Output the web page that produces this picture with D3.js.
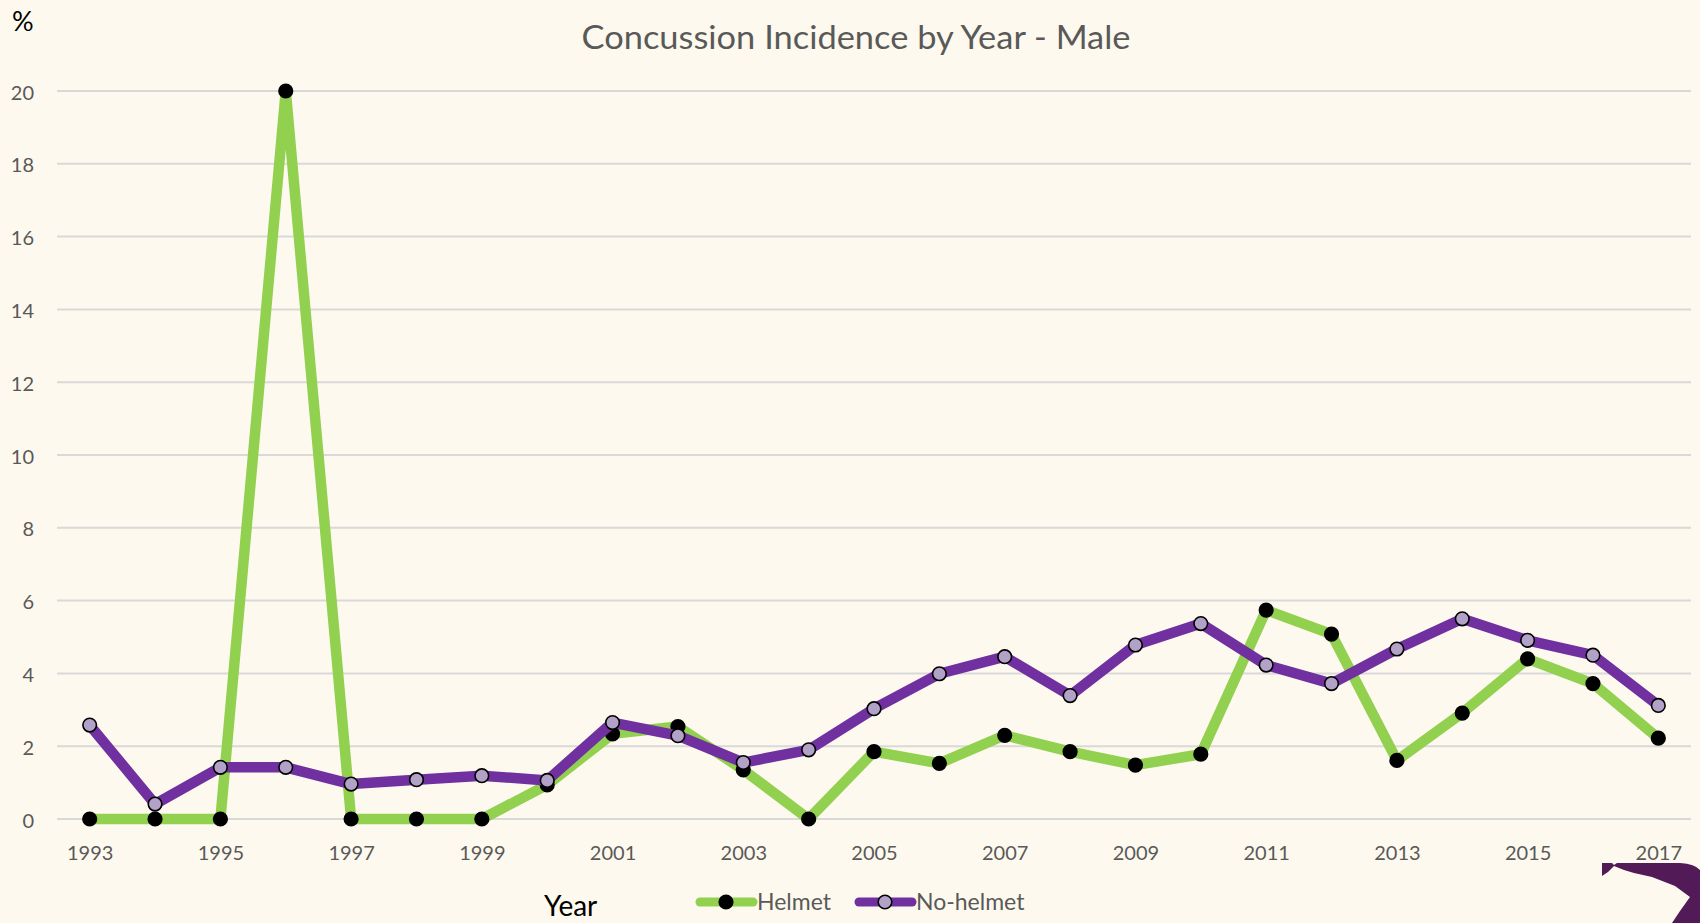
<!DOCTYPE html>
<html lang="en">
  <head>
    <meta charset="utf-8" />
    <title>Concussion Incidence by Year - Male</title>
    <style>
      html,
      body {
        margin: 0;
        padding: 0;
        background-color: #fef9ee;
        overflow: hidden;
      }

      svg {
        display: block;
        font-family: Lato, 'Open Sans', sans-serif;
      }

      .grid line {
        stroke: #d9d9d9;
        stroke-width: 2;
      }

      .tick-label {
        fill: #595959;
        font-size: 20px;
      }
    </style>
  </head>

  <body>
    <svg></svg>

    <script src="https://d3js.org/d3.v7.min.js"></script>
    <script type="text/javascript">
      let width = 1700,
        height = 923

      // Chart data
      const years = [
        1993, 1994, 1995, 1996, 1997, 1998, 1999, 2000, 2001, 2002, 2003, 2004, 2005,
        2006, 2007, 2008, 2009, 2010, 2011, 2012, 2013, 2014, 2015, 2016, 2017,
      ]
      const helmet = [
        0, 0, 0, 20, 0, 0, 0, 0.94, 2.34, 2.54, 1.35, 0, 1.85, 1.53, 2.3, 1.85, 1.48, 1.78,
        5.74, 5.08, 1.61, 2.91, 4.4, 3.72, 2.22,
      ]
      const noHelmet = [
        2.58, 0.41, 1.42, 1.42, 0.96, 1.08, 1.19, 1.06, 2.65, 2.29, 1.55, 1.9, 3.03, 3.99,
        4.46, 3.39, 4.78, 5.37, 4.23, 3.72, 4.67, 5.5, 4.91, 4.5, 3.12,
      ]
      const yTicks = [0, 2, 4, 6, 8, 10, 12, 14, 16, 18, 20]
      const xTickYears = years.filter((d, i) => i % 2 == 0)

      const series = [
        { name: 'Helmet', values: helmet, color: '#92d050', marker: '#000000' },
        { name: 'No-helmet', values: noHelmet, color: '#7030a0', marker: '#b3a2c7' },
      ]

      let svg = d3.select('svg').attr('width', width).attr('height', height)

      // Scales
      let x = d3.scalePoint().domain(years).range([57, 1691]).padding(0.5)
      let y = d3.scaleLinear().domain([0, 20]).range([819, 91])

      // Title
      svg
        .append('text')
        .attr('x', 856)
        .attr('y', 49)
        .attr('text-anchor', 'middle')
        .attr('fill', '#595959')
        .attr('font-size', 33)
        .attr('textLength', 549)
        .attr('lengthAdjust', 'spacingAndGlyphs')
        .text('Concussion Incidence by Year - Male')

      // Y axis unit
      svg.append('text').attr('x', 12).attr('y', 31).attr('font-size', 27).attr('fill', '#000').text('%')

      // Gridlines
      svg
        .append('g')
        .attr('class', 'grid')
        .selectAll('line')
        .data(yTicks)
        .join('line')
        .attr('x1', x.range()[0])
        .attr('x2', x.range()[1])
        .attr('y1', (d) => y(d))
        .attr('y2', (d) => y(d))

      // Y axis
      svg
        .append('g')
        .attr('transform', 'translate(34,0)')
        .call(d3.axisLeft(y).tickValues(yTicks).tickSize(0).tickPadding(0))
        .attr('font-family', null)
        .attr('font-size', null)
        .call((g) => g.select('.domain').remove())
        .call((g) => g.selectAll('text').attr('class', 'tick-label').attr('dy', '0.4em'))

      // X axis
      svg
        .append('g')
        .attr('transform', 'translate(0,841)')
        .call(d3.axisBottom(x).tickValues(xTickYears).tickSize(0).tickPadding(0))
        .attr('font-family', null)
        .attr('font-size', null)
        .call((g) => g.select('.domain').remove())
        .call((g) => g.selectAll('text').attr('class', 'tick-label').attr('dy', '0.95em'))

      // Lines and markers
      let line = d3
        .line()
        .x((d, i) => x(years[i]))
        .y((d) => y(d))

      series.forEach((s) => {
        let g = svg.append('g')
        g.append('path')
          .datum(s.values)
          .attr('d', line)
          .attr('fill', 'none')
          .attr('stroke', s.color)
          .attr('stroke-width', 10.5)
          .attr('stroke-linejoin', 'round')
          .attr('stroke-linecap', 'round')

        g.selectAll('circle')
          .data(s.values)
          .join('circle')
          .attr('cx', (d, i) => x(years[i]))
          .attr('cy', (d) => y(d))
          .attr('r', 6.8)
          .attr('fill', s.marker)
          .attr('stroke', '#000')
          .attr('stroke-width', 1.6)
      })

      // X axis title
      svg.append('text').attr('x', 544).attr('y', 916).attr('font-size', 28).attr('fill', '#000').text('Year')

      // Legend
      let legendX = [697, 856]
      let legend = svg
        .append('g')
        .selectAll('g')
        .data(series)
        .join('g')
        .attr('transform', (d, i) => `translate(${legendX[i]},902)`)

      legend
        .append('line')
        .attr('x1', 3)
        .attr('x2', 56)
        .attr('stroke', (d) => d.color)
        .attr('stroke-width', 9)
        .attr('stroke-linecap', 'round')

      legend
        .append('circle')
        .attr('cx', 29)
        .attr('r', 6.8)
        .attr('fill', (d) => d.marker)
        .attr('stroke', '#000')
        .attr('stroke-width', 1.6)

      legend
        .append('text')
        .attr('x', 60)
        .attr('dy', '0.36em')
        .attr('font-size', 23)
        .attr('fill', '#595959')
        .text((d) => d.name)

      // Corner logo fragment
      svg
        .append('path')
        .attr('fill', '#521a57')
        .attr(
          'd',
          'M1602,863 L1612,863 L1614,865 L1617,863 L1680,863 Q1695,864 1700,870 L1700,923 L1672,923 L1680,911 L1690,897 L1675,886 L1652,877 L1634,873 L1624,870 L1614,866 L1608,872 L1602,876 Z'
        )
    </script>
  </body>
</html>
